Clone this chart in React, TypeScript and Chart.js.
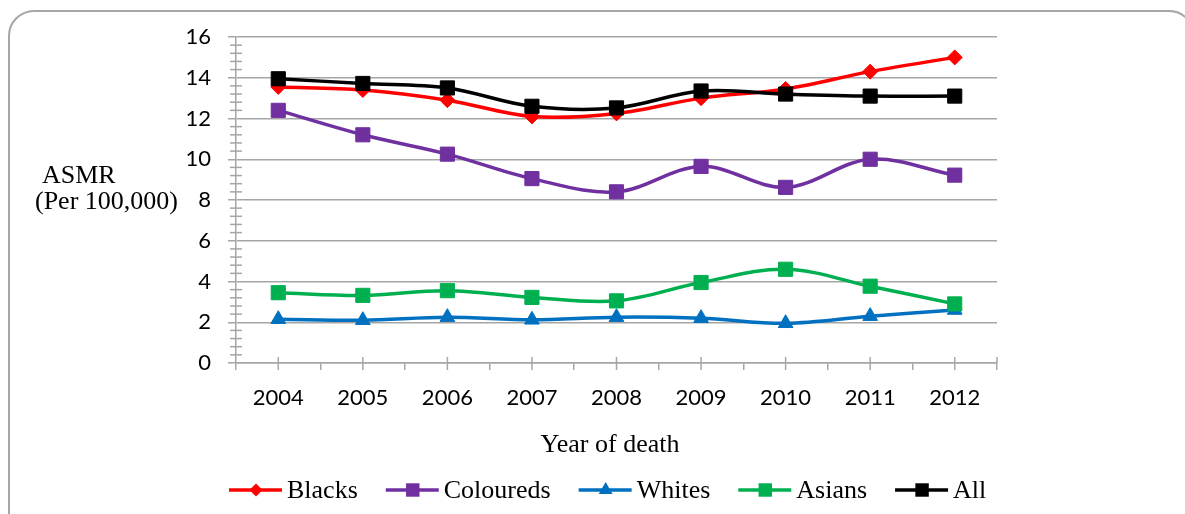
import React, { useEffect, useRef } from 'react';
import { Chart, registerables } from 'chart.js';

Chart.register(...registerables);

const years = ['2004', '2005', '2006', '2007', '2008', '2009', '2010', '2011', '2012'];
const blacks = [13.55, 13.4, 12.9, 12.1, 12.25, 13.0, 13.45, 14.3, 15.0];
const coloureds = [12.4, 11.2, 10.25, 9.05, 8.4, 9.65, 8.62, 10.0, 9.22];
const whites = [2.15, 2.1, 2.25, 2.12, 2.25, 2.2, 1.95, 2.3, 2.6];
const asians = [3.45, 3.32, 3.55, 3.22, 3.05, 3.95, 4.6, 3.77, 2.9];
const all = [13.95, 13.72, 13.5, 12.6, 12.52, 13.35, 13.2, 13.1, 13.1];

const seriesNames = ['Blacks', 'Coloureds', 'Whites', 'Asians', 'All'];
const seriesValues = [blacks, coloureds, whites, asians, all];
const seriesColors = ['#FF0000', '#7030A0', '#0070C0', '#00B050', '#000000'];
const seriesMarkers = ['rectRot', 'rect', 'triangle', 'rect', 'rect'];
const markerRadius = [7.5, 10, 8.5, 10, 10];
const legendMarkerRadius = [6.5, 9.5, 8, 9.5, 9.5];

const yMin = 0;
const yMax = 16;
const yStep = 2;
const yMinorStep = 0.4;

const GRID = '#a6a6a6';
const SERIF = "'Liberation Serif', 'Times New Roman', serif";

function drawMarker(ctx: CanvasRenderingContext2D, style: string, x: number, y: number, r: number) {
  ctx.beginPath();
  if (style === 'rect') {
    const s = Math.SQRT1_2 * r;
    ctx.rect(x - s, y - s, 2 * s, 2 * s);
  } else if (style === 'rectRot') {
    ctx.moveTo(x - r, y);
    ctx.lineTo(x, y - r);
    ctx.lineTo(x + r, y);
    ctx.lineTo(x, y + r);
    ctx.closePath();
  } else if (style === 'triangle') {
    ctx.moveTo(x, y - r);
    ctx.lineTo(x + Math.sin((2 * Math.PI) / 3) * r, y + r / 2);
    ctx.lineTo(x - Math.sin((2 * Math.PI) / 3) * r, y + r / 2);
    ctx.closePath();
  }
  ctx.fill();
}

const decorPlugin = {
  id: 'decor',
  afterDraw(chart: any) {
    const ctx: CanvasRenderingContext2D = chart.ctx;
    const xs = chart.scales.x;
    const ys = chart.scales.y;
    ctx.save();
    ctx.strokeStyle = GRID;
    ctx.lineWidth = 1.5;
    // minor y ticks crossing the axis
    const n = Math.round((yMax - yMin) / yMinorStep);
    const per = Math.round(yStep / yMinorStep);
    for (let k = 0; k <= n; k++) {
      if (k % per === 0) continue;
      const py = ys.getPixelForValue(yMin + k * yMinorStep);
      ctx.beginPath();
      ctx.moveTo(xs.left - 6, py);
      ctx.lineTo(xs.left + 6, py);
      ctx.stroke();
    }
    // x ticks at category centers, crossing the axis
    for (let i = 0; i < years.length; i++) {
      const px = xs.getPixelForValue(i);
      ctx.beginPath();
      ctx.moveTo(px, ys.bottom - 6);
      ctx.lineTo(px, ys.bottom + 7);
      ctx.stroke();
    }
    ctx.beginPath();
    ctx.moveTo(xs.right, ys.bottom - 6);
    ctx.lineTo(xs.right, ys.bottom);
    ctx.stroke();

    // titles
    ctx.fillStyle = '#000';
    ctx.font = `26px ${SERIF}`;
    ctx.textBaseline = 'alphabetic';
    ctx.textAlign = 'left';
    ctx.fillText('ASMR', 42, 183);
    ctx.fillText('(Per 100,000)', 35, 209);
    ctx.textAlign = 'center';
    ctx.fillText('Year of death', 610, 452);

    // legend
    let lx = 229;
    const ly = 490;
    ctx.textAlign = 'left';
    for (let i = 0; i < seriesNames.length; i++) {
      ctx.strokeStyle = seriesColors[i];
      ctx.fillStyle = seriesColors[i];
      ctx.lineWidth = 3.5;
      ctx.beginPath();
      ctx.moveTo(lx, ly);
      ctx.lineTo(lx + 53, ly);
      ctx.stroke();
      drawMarker(ctx, seriesMarkers[i], lx + 27, ly, legendMarkerRadius[i]);
      ctx.fillStyle = '#000';
      ctx.fillText(seriesNames[i], lx + 58, 498);
      lx += 58 + ctx.measureText(seriesNames[i]).width + 28;
    }
    ctx.restore();
  },
};

export default function App() {
  const ref = useRef<HTMLCanvasElement | null>(null);
  useEffect(() => {
    if (!ref.current) return;
    const datasets = seriesNames.map((name, i) => ({
      label: name,
      data: seriesValues[i],
      borderColor: seriesColors[i],
      backgroundColor: seriesColors[i],
      pointBackgroundColor: seriesColors[i],
      pointBorderColor: seriesColors[i],
      pointBorderWidth: 1,
      pointStyle: seriesMarkers[i],
      pointRadius: markerRadius[i],
      borderWidth: 3.5,
      tension: 0.35,
      fill: false,
      order: seriesNames.length - i,
    }));
    const chart = new Chart(ref.current, {
      type: 'line',
      data: { labels: years, datasets },
      options: {
        responsive: false,
        animation: false,
        layout: { padding: { left: 0, top: 37, right: 188, bottom: 91 } },
        plugins: { legend: { display: false }, tooltip: { enabled: false } },
        scales: {
          x: {
            offset: true,
            afterFit: (s: any) => { s.height = 60; },
            grid: {
              display: true,
              drawOnChartArea: false,
              drawTicks: true,
              tickLength: 7,
              color: GRID,
              lineWidth: 1.5,
              offset: true,
            },
            border: { display: true, color: GRID, width: 1.5 },
            ticks: { color: '#000', font: { family: 'Lato', size: 22 }, padding: 15, maxRotation: 0, autoSkip: false },
          },
          y: {
            min: yMin,
            max: yMax,
            afterFit: (s: any) => { s.width = 236; },
            grid: { color: GRID, lineWidth: 1.5, tickLength: 8, drawTicks: true },
            border: { display: true, color: GRID, width: 1.5 },
            ticks: { stepSize: yStep, color: '#000', font: { family: 'Lato', size: 22 }, padding: 17 },
          },
        },
      },
      plugins: [decorPlugin],
    } as any);
    return () => chart.destroy();
  }, []);

  return (
    <div style={{ position: 'fixed', left: 0, top: 0, width: 1185, height: 514, overflow: 'hidden', background: '#fff' }}>
      <div
        style={{
          position: 'absolute',
          left: 8,
          top: 10,
          width: 1187,
          height: 560,
          border: '2px solid #a6a6a6',
          borderRadius: 26,
          boxSizing: 'border-box',
        }}
      />
      <canvas ref={ref} width={1185} height={514} style={{ position: 'absolute', left: 0, top: 0, width: 1185, height: 514 }} />
    </div>
  );
}
